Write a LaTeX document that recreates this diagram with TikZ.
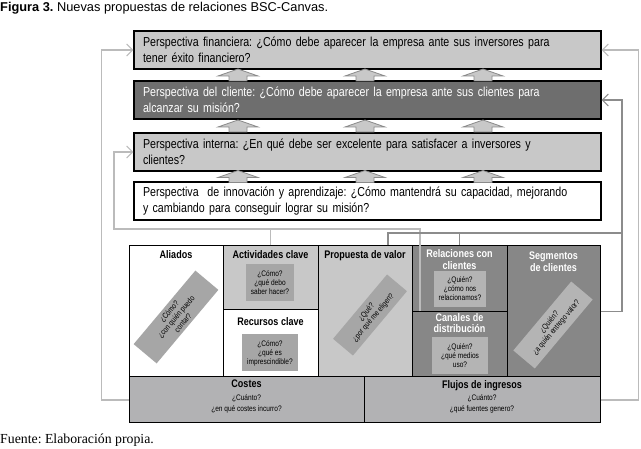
\documentclass[tikz,border=0pt]{standalone}
\usepackage{fontspec}
\setmainfont{Liberation Sans}
\newfontfamily\estrecha[FakeStretch=0.82]{Liberation Sans}
\newfontfamily\serifa{Liberation Serif}
\usetikzlibrary{arrows.meta,calc}
\definecolor{grisclaro}{HTML}{C8C8C8}
\definecolor{grismedio}{HTML}{B2B2B4}
\definecolor{grisoscuro}{HTML}{878787}
\definecolor{griscliente}{HTML}{6E6E6E}
\definecolor{grisrecuadro}{HTML}{A6A6A6}
\definecolor{grisrecuadroclaro}{HTML}{B4B4B4}
\definecolor{lineaclara}{HTML}{BBBBBB}
\definecolor{lineaoscura}{HTML}{8C8C8C}
\definecolor{gris}{HTML}{8A8A8A}
\frenchspacing

\begin{document}
\begin{tikzpicture}[x=1pt, y=-1pt,
  perspectiva/.style={draw, line width=1.2pt, minimum width=467pt, minimum height=38pt,
               text width=449pt, inner xsep=9pt, inner ysep=0pt, align=left,
               font=\estrecha\fontsize{13}{16.5}\selectfont},
  celda/.style={draw, line width=1pt, inner sep=0pt},
  titulo/.style={font=\estrecha\bfseries\fontsize{11}{11.8}\selectfont, align=center,
               anchor=north, inner sep=2pt},
  pregunta/.style={fill=grisrecuadro, align=center, inner sep=1pt,
               font=\estrecha\fontsize{8}{9}\selectfont},
  enlaceclaro/.style={lineaclara, line width=1.8pt},
  enlaceoscuro/.style={lineaoscura, line width=1.8pt},
  punta/.style={-{Straight Barb[length=6pt,width=12pt,line width=1pt]}},
  flechagorda/.pic={\draw[fill=grisclaro, draw=gris, line width=0.8pt]
      (-9,6) -- (-9,1) -- (-20,1) -- (0,-6) -- (20,1) -- (9,1) -- (9,6) -- cycle;}
]
  \useasboundingbox (0,0) rectangle (641,449);

  \node[anchor=base west, inner sep=0pt, font=\fontsize{12.8}{14}\selectfont] (titulo) at (0,12)
    {\textbf{Figura 3.} Nuevas propuestas de relaciones BSC-Canvas.};
  \node[anchor=base west, inner sep=0pt, font=\serifa\fontsize{13.8}{15}\selectfont] (fuente) at (0,444)
    {Fuente: Elaboración propia.};

  \node[perspectiva, fill=grisclaro] (financiera) at (367.5,50)
    {Perspectiva financiera: ¿Cómo debe aparecer la empresa ante sus inversores para\\tener éxito financiero?};
  \node[perspectiva, fill=griscliente, text=white] (cliente) at (367.5,100)
    {Perspectiva del cliente: ¿Cómo debe aparecer la empresa ante sus clientes para\\alcanzar su misión?};
  \node[perspectiva, fill=grisclaro] (interna) at (367.5,152)
    {Perspectiva interna: ¿En qué debe ser excelente para satisfacer a inversores y\\clientes?};
  \node[perspectiva, fill=white] (innovacion) at (367.5,201)
    {Perspectiva\ \ de innovación y aprendizaje: ¿Cómo mantendrá su capacidad, mejorando\\y cambiando para conseguir lograr su misión?};

  \foreach \x in {238,365,483}
    \foreach \y in {75,126,176.5}
      \pic at (\x,\y) {flechagorda};

  \node[celda, fill=white, minimum width=94pt, minimum height=131pt] (aliados) at (176,311.5) {};
  \node[celda, fill=grisclaro, minimum width=95pt, minimum height=64pt] (actividades) at (270.5,278) {};
  \node[celda, fill=white, minimum width=95pt, minimum height=67pt] (recursos) at (270.5,343.5) {};
  \node[celda, fill=grisclaro, minimum width=94pt, minimum height=131pt] (propuesta) at (365,311.5) {};
  \node[celda, fill=grisoscuro, minimum width=95pt, minimum height=66pt] (relaciones) at (459.5,279) {};
  \node[celda, fill=grisoscuro, minimum width=95pt, minimum height=65pt] (canales) at (459.5,344.5) {};
  \node[celda, fill=grisoscuro, minimum width=93pt, minimum height=131pt] (segmentos) at (553.5,311.5) {};
  \node[celda, fill=grismedio, minimum width=235pt, minimum height=46pt] (costes) at (246.5,400) {};
  \node[celda, fill=grismedio, minimum width=236pt, minimum height=46pt] (flujos) at (482,400) {};

  \node[titulo] (aliados-t) at (176,248) {Aliados};
  \node[titulo] (actividades-t) at (270.5,248) {Actividades clave};
  \node[titulo] (recursos-t) at (270.5,315) {Recursos clave};
  \node[titulo] (propuesta-t) at (365,248) {Propuesta de valor};
  \node[titulo, text=white] (relaciones-t) at (459.5,247.5) {Relaciones con\\clientes};
  \node[titulo, text=white] (canales-t) at (459.5,311) {Canales de\\distribución};
  \node[titulo, text=white] (segmentos-t) at (553.5,250) {Segmentos\\de clientes};
  \node[titulo] (costes-t) at (246.5,378) {Costes};
  \node[titulo] (flujos-t) at (482,378) {Flujos de ingresos};

  \node[pregunta, rotate=50, minimum width=96pt, minimum height=30pt] (aliados-q) at (176,317)
    {¿Cómo?\\¿con quién puedo\\contar?};
  \node[pregunta, minimum width=48pt, minimum height=37pt] (actividades-q) at (270,283)
    {¿Cómo?\\¿qué debo\\saber hacer?};
  \node[pregunta, minimum width=56pt, minimum height=37pt] (recursos-q) at (270,353)
    {¿Cómo?\\¿qué es\\imprescindible?};
  \node[pregunta, rotate=50, minimum width=84pt, minimum height=26pt] (propuesta-q) at (370,315)
    {¿Qué?\\¿por qué me eligen?};
  \node[pregunta, fill=grisrecuadroclaro, minimum width=52pt, minimum height=36pt] (relaciones-q) at (460,289)
    {¿Quién?\\¿cómo nos\\relacionamos?};
  \node[pregunta, fill=grisrecuadroclaro, minimum width=56pt, minimum height=37pt] (canales-q) at (460,356)
    {¿Quién?\\¿qué medios\\uso?};
  \node[pregunta, fill=grisrecuadroclaro, rotate=50, minimum width=90pt, minimum height=28pt] (segmentos-q) at (553,325)
    {¿Quién?\\¿a quién entrego valor?};
  \node[pregunta, fill=none, anchor=north, font=\estrecha\fontsize{8}{11.5}\selectfont] (costes-q) at (246.5,393)
    {¿Cuánto?\\¿en qué costes incurro?};
  \node[pregunta, fill=none, anchor=north, font=\estrecha\fontsize{8}{11.5}\selectfont] (flujos-q) at (482,393)
    {¿Cuánto?\\¿qué fuentes genero?};

  \coordinate (c1) at (114,229);
  \coordinate (c2) at (420,229);
  \coordinate (d1) at (622,233);
  \coordinate (d2) at (388,233);

  \draw[enlaceclaro, punta] (costes.west) -- ++(-27,0) |- (financiera.west);
  \draw[enlaceclaro, punta] (flujos.east) -- ++(38,0) |- (financiera.east);
  \draw[enlaceclaro, punta] (canales.north -| c2) -- (c2) -- (c1) |- (interna.west);
  \draw[enlaceclaro] (actividades.north) -- (actividades.north |- c1);
  \draw[enlaceoscuro, punta] (segmentos.east) -- (segmentos.east -| d1) |- (cliente.east);
  \draw[enlaceoscuro] (propuesta.north -| d2) -- (d2) -- (d1);
  \draw[enlaceoscuro] (relaciones.north) -- (relaciones.north |- d2);
\end{tikzpicture}
\end{document}
